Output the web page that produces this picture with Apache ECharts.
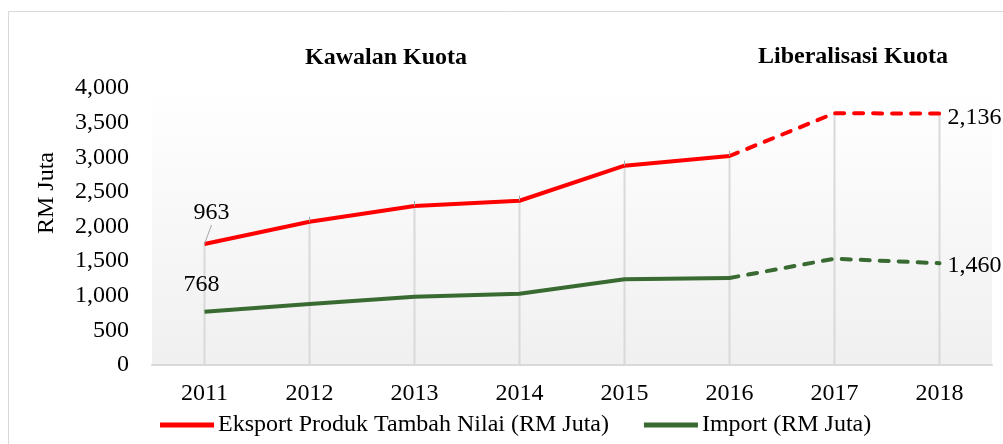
<!DOCTYPE html>
<html>
<head>
    <meta charset="UTF-8">
    <title></title>
    <script src="https://cdn.jsdelivr.net/npm/echarts@6/dist/echarts.min.js"></script>
    <style>
        html, body { margin: 0; padding: 0; background: #fff; }
        #main { width: 1003px; height: 444px; }
    </style>
</head>
<body>
<div id="main"></div>
<script>
    var years = ['2011', '2012', '2013', '2014', '2015', '2016', '2017', '2018'];
    var eksport = [1747, 2069, 2296, 2372, 2878, 3018, 3636, 3630];
    var importVal = [770, 881, 986, 1030, 1237, 1256, 1535, 1470];
    // texts printed beside the points (as in the source picture)
    var eksportLabels = ['963', '', '', '', '', '', '', '2,136'];
    var importLabels = ['768', '', '', '', '', '', '', '1,460'];
    var splitIndex = 5; // solid up to 2016, dashed after
    var yTicks = [0, 4000, 500];

    var font = 'Liberation Serif';
    var red = '#ff0000';
    var green = '#386a31';

    function part(arr, solid) {
        return arr.map(function (v, i) {
            if (solid) return i <= splitIndex ? v : '-';
            return i >= splitIndex ? v : '-';
        });
    }

    function labelFn(texts) {
        return function (p) { return texts[p.dataIndex] || ''; };
    }

    var chart = echarts.init(document.getElementById('main'));
    chart.setOption({
        animation: false,
        textStyle: { fontFamily: font },
        graphic: [
            { type: 'rect', shape: { x: 8.5, y: 11.5, width: 1100, height: 600 },
              style: { fill: null, stroke: '#d9d9d9', lineWidth: 1 }, z: -10 },
            { type: 'text', x: 386, y: 58, style: { text: 'Kawalan Kuota', font: 'bold 24px "Liberation Serif"',
              fill: '#000', align: 'center', verticalAlign: 'middle' } },
            { type: 'text', x: 853, y: 57, style: { text: 'Liberalisasi Kuota', font: 'bold 24px "Liberation Serif"',
              fill: '#000', align: 'center', verticalAlign: 'middle' } },
            { type: 'text', x: 47, y: 193, rotation: Math.PI / 2,
              style: { text: 'RM Juta', font: '24px "Liberation Serif"',
              fill: '#000', align: 'center', verticalAlign: 'middle' } }
        ],
        grid: {
            left: 152, right: 11, top: 88, bottom: 79,
            show: true, borderWidth: 0,
            backgroundColor: new echarts.graphic.LinearGradient(0, 0, 0, 1, [
                { offset: 0, color: '#ffffff' },
                { offset: 1, color: '#f0f0f0' }
            ])
        },
        legend: {
            bottom: 2, left: 155,
            itemWidth: 54, itemHeight: 5, itemGap: 35,
            icon: 'rect',
            textStyle: { fontFamily: font, fontSize: 24, color: '#000', padding: [0, 0, 0, -1] },
            data: ['Eksport Produk Tambah Nilai (RM Juta)', 'Import (RM Juta)']
        },
        xAxis: {
            type: 'category',
            data: years,
            axisLine: { lineStyle: { color: '#d9d9d9', width: 2 } },
            axisTick: { show: false },
            axisLabel: { fontFamily: font, fontSize: 24, color: '#000', margin: 17 }
        },
        yAxis: {
            type: 'value',
            min: yTicks[0], max: yTicks[1], interval: yTicks[2],
            axisLine: { show: false },
            axisTick: { show: false },
            splitLine: { show: false },
            axisLabel: {
                fontFamily: font, fontSize: 24, color: '#000', margin: 23,
                formatter: function (v) { return v.toLocaleString('en-US'); }
            }
        },
        series: [
            {
                // vertical drop lines from the top series down to the axis
                name: 'drop',
                type: 'bar',
                data: eksport,
                barWidth: 2,
                itemStyle: { color: '#d9d9d9' },
                silent: true,
                z: 1
            },
            {
                name: 'Eksport Produk Tambah Nilai (RM Juta)',
                type: 'line',
                data: part(eksport, true),
                showSymbol: true,
                symbol: 'circle',
                symbolSize: 0.1,
                lineStyle: { color: red, width: 4 },
                itemStyle: { color: red },
                z: 3,
                label: {
                    show: true, position: 'top', distance: 5,
                    fontFamily: font, fontSize: 24, color: '#000',
                    formatter: labelFn(eksportLabels)
                },
                labelLayout: function (p) {
                    return p.dataIndex === 0 ? { dx: 7, dy: -14 } : {};
                },
                labelLine: { show: true, lineStyle: { color: '#a6a6a6', width: 1 } }
            },
            {
                name: 'Eksport Produk Tambah Nilai (RM Juta)',
                type: 'line',
                data: part(eksport, false),
                showSymbol: true,
                symbol: 'circle',
                symbolSize: 0.1,
                lineStyle: { color: red, width: 4, type: [9, 10], cap: 'round' },
                itemStyle: { color: red },
                z: 3,
                label: {
                    show: true, position: 'right', distance: 8, offset: [0, 4],
                    fontFamily: font, fontSize: 24, color: '#000',
                    formatter: labelFn(eksportLabels)
                }
            },
            {
                name: 'Import (RM Juta)',
                type: 'line',
                data: part(importVal, true),
                showSymbol: true,
                symbol: 'circle',
                symbolSize: 0.1,
                lineStyle: { color: green, width: 4 },
                itemStyle: { color: green },
                z: 3,
                label: {
                    show: true, position: 'top', distance: 5, offset: [-3, -10],
                    fontFamily: font, fontSize: 24, color: '#000',
                    formatter: labelFn(importLabels)
                }
            },
            {
                name: 'Import (RM Juta)',
                type: 'line',
                data: part(importVal, false),
                showSymbol: true,
                symbol: 'circle',
                symbolSize: 0.1,
                lineStyle: { color: green, width: 4, type: [9, 10], cap: 'round' },
                itemStyle: { color: green },
                z: 3,
                label: {
                    show: true, position: 'right', distance: 8, offset: [0, 3],
                    fontFamily: font, fontSize: 24, color: '#000',
                    formatter: labelFn(importLabels)
                }
            }
        ]
    });
</script>
</body>
</html>
